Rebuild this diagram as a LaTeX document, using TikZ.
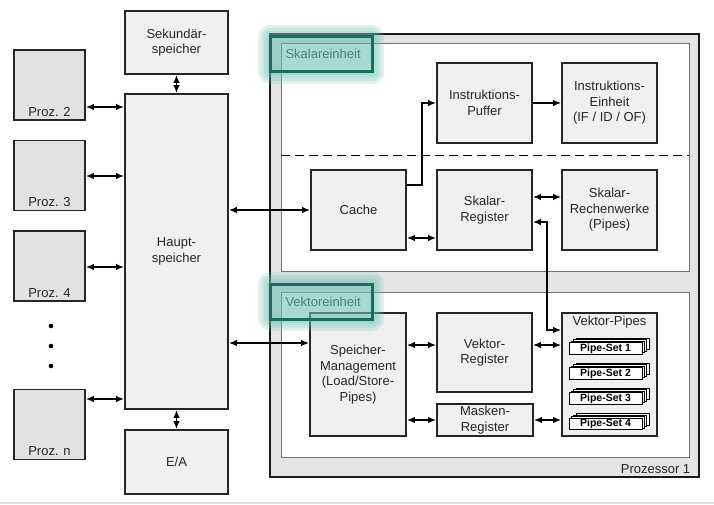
\documentclass[tikz,border=0pt]{standalone}
\usepackage{fontspec}
\setmainfont{Liberation Sans}
\usetikzlibrary{arrows.meta,shadows}
\definecolor{boxgray}{HTML}{F0F0F0}
\definecolor{prozgray}{HTML}{E2E2E2}
\definecolor{cpugray}{HTML}{E4E4E4}
\definecolor{hlteal}{HTML}{1B6E5E}
\definecolor{hlglow}{HTML}{6CC2B2}
\begin{document}
\begin{tikzpicture}
  [x=1pt,y=-1pt,
   every node/.style={font=\fontsize{13}{15.5}\selectfont,align=center,text=black!85},
   box/.style={draw=black!85,line width=1.6pt,fill=boxgray,inner sep=0pt},
   proz/.style={draw=black!85,line width=1.6pt,fill=prozgray,minimum width=71,minimum height=70},
   unit/.style={draw=black!55,line width=0.9pt,fill=white},
   pipeset/.style={draw=black,line width=1pt,fill=white,inner sep=0pt,
     minimum width=73,minimum height=11.5,font=\bfseries\fontsize{10.5}{11}\selectfont,text=black,
     copy shadow={shadow xshift=7pt,shadow yshift=4.5pt,draw=black,fill=white,line width=0.8pt},
     copy shadow={shadow xshift=4.7pt,shadow yshift=3pt,draw=black,fill=white,line width=0.8pt},
     copy shadow={shadow xshift=2.3pt,shadow yshift=1.5pt,draw=black,fill=white,line width=0.8pt}},
   ar/.style={-{Latex[length=8pt,width=6.5pt]},line width=1.6pt},
   dar/.style={{Latex[length=8pt,width=6.5pt]}-{Latex[length=8pt,width=6.5pt]},line width=1.6pt}]

  \fill[white] (0,0) rectangle (714,505);
  \useasboundingbox (0,0) rectangle (714,505);
  \draw[black!12,line width=1.5pt] (0,503) -- (714,503);

  % main memory side
  \node[box,minimum width=103,minimum height=63] (sek) at (176.5,42.5) {Sekundär-\\speicher};
  \node[box,minimum width=103,minimum height=315] (haupt) at (176.5,251.5) {Haupt-\\speicher};
  \node[box,minimum width=103,minimum height=64] (ea) at (176.5,462) {E/A};

  \foreach \n/\y/\t in {p2/85/2,p3/175.5/3,p4/266/4,pn/424.5/n}
    \node[proz,label={[anchor=south,inner sep=4pt]south:Proz. \t}] (\n) at (49.5,\y) {};
  \foreach \y in {326,346,366}
    \fill (51,\y) circle (2.3);

  % processor 1
  \node[draw=black!90,line width=2.8pt,fill=cpugray,minimum width=429,minimum height=443] (proc) at (484.5,255.5) {};
  \node[anchor=south east,inner sep=2pt] (proctxt) at ([xshift=-8pt,yshift=3pt]proc.south east) {Prozessor 1};
  \node[unit,minimum width=408,minimum height=228] (skal) at (485,157) {};
  \node[unit,minimum width=408,minimum height=165] (vekt) at (485,374.5) {};
  \draw[dashed,dash pattern=on 9pt off 5pt,line width=1pt] (skal.west |- 0,156) -- (skal.east |- 0,156);
  \node[anchor=west] (skaltxt) at (282,54) {Skalareinheit};
  \node[anchor=west] (vekttxt) at (282,302) {Vektoreinheit};

  % scalar unit
  \node[box,minimum width=95,minimum height=80] (puffer) at (484.5,103) {Instruktions-\\Puffer};
  \node[box,minimum width=95,minimum height=80] (einheit) at (609.5,103) {Instruktions-\\Einheit\\(IF / ID / OF)};
  \node[box,minimum width=95,minimum height=80] (cache) at (358.5,210) {Cache};
  \node[box,minimum width=95,minimum height=80] (sreg) at (484.5,210) {Skalar-\\Register};
  \node[box,minimum width=95,minimum height=80] (srw) at (609.5,210) {Skalar-\\Rechenwerke\\(Pipes)};

  % vector unit
  \node[box,minimum width=96,minimum height=123] (sm) at (358,374.5) {Speicher-\\Management\\(Load/Store-\\Pipes)};
  \node[box,minimum width=95,minimum height=79] (vreg) at (484.5,352.5) {Vektor-\\Register};
  \node[box,minimum width=96,minimum height=32] (mreg) at (485,420) {Masken-\\Register};
  \node[box,minimum width=95,minimum height=123,label={[anchor=north,inner sep=4pt]north:Vektor-Pipes}] (vp) at (609.5,374.5) {};
  \foreach \i/\y in {1/348.5,2/373.5,3/398.5,4/424}
    \node[pipeset] (ps\i) at (605.5,\y) {Pipe-Set \i};

  % connections
  \draw[dar] (sek) -- (haupt);
  \draw[dar] (ea) -- (haupt);
  \foreach \n/\y in {p2/107,p3/176,p4/267,pn/399}
    \draw[dar] (\n.east |- 0,\y) -- (haupt.west |- 0,\y);
  \draw[dar] (haupt.east |- cache) -- (cache);
  \draw[dar] (haupt.east |- 0,343) -- (sm.west |- 0,343);
  \draw[ar] (cache.east |- 0,185) -- (422,185) |- (puffer.west);
  \draw[ar] (puffer) -- (einheit);
  \draw[dar] (cache.east |- 0,238) -- (sreg.west |- 0,238);
  \draw[dar] (sreg.east |- 0,197) -- (srw.west |- 0,197);
  \draw[dar] (sreg.east |- 0,222) -- (547,222) |- (vp.west |- 0,330);
  \foreach \from/\to/\y in {sm/vreg/345,vreg/vp/345,sm/mreg/420,mreg/vp/420}
    \draw[dar] (\from.east |- 0,\y) -- (\to.west |- 0,\y);

  % highlights
  \foreach \a/\b in {37/72,284/319}{
    \foreach \g in {12,9,6,3}
      \fill[hlglow,opacity=.2,rounded corners=\g] (270-\g,\a-\g) rectangle (372+\g,\b+\g);
    \draw[hlteal,line width=3pt] (270,\a) rectangle (372,\b);
  }

\end{tikzpicture}
\end{document}
